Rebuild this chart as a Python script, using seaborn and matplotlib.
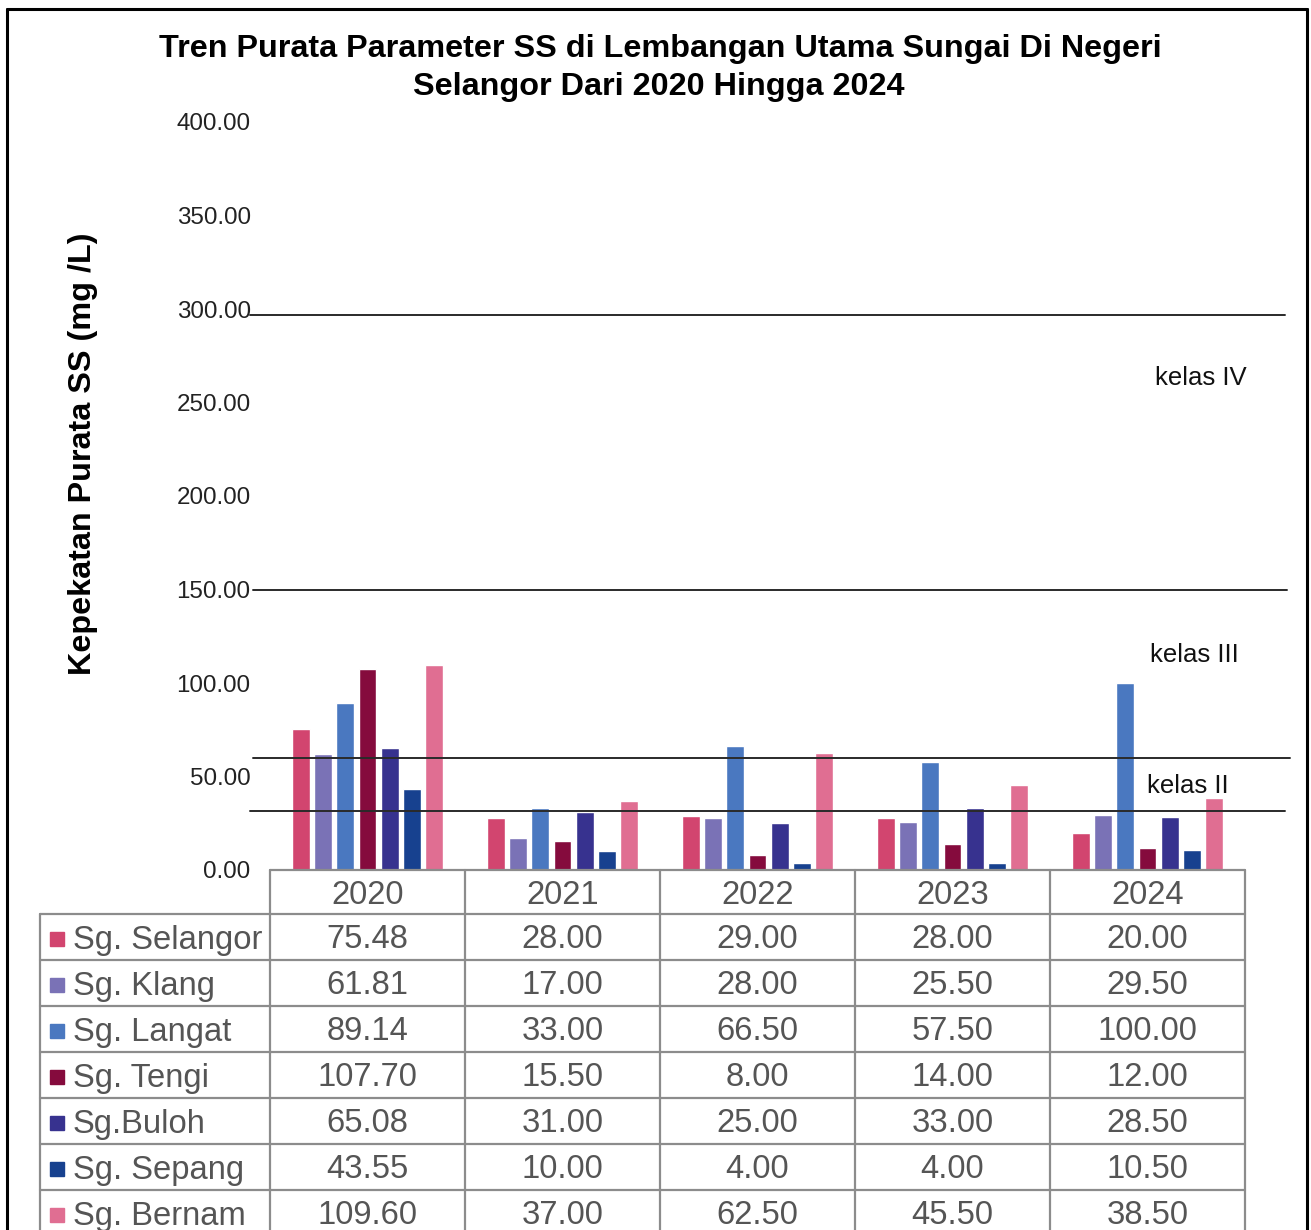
import matplotlib
matplotlib.use("Agg")
import matplotlib.pyplot as plt
import seaborn as sns
import pandas as pd
from matplotlib.patches import Rectangle

years = ["2020", "2021", "2022", "2023", "2024"]
rivers = ["Sg. Selangor", "Sg. Klang", "Sg. Langat", "Sg. Tengi",
          "Sg.Buloh", "Sg. Sepang", "Sg. Bernam"]
selangor = [75.48, 28.00, 29.00, 28.00, 20.00]
klang = [61.81, 17.00, 28.00, 25.50, 29.50]
langat = [89.14, 33.00, 66.50, 57.50, 100.00]
tengi = [107.70, 15.50, 8.00, 14.00, 12.00]
buloh = [65.08, 31.00, 25.00, 33.00, 28.50]
sepang = [43.55, 10.00, 4.00, 4.00, 10.50]
bernam = [109.60, 37.00, 62.50, 45.50, 38.50]
series = [selangor, klang, langat, tengi, buloh, sepang, bernam]
colors = ["#D2456F", "#7A72B6", "#4A78C0", "#850B3D",
          "#37328F", "#17418F", "#E06E92"]
yticks = [0, 50, 100, 150, 200, 250, 300, 350, 400]
class_levels = [297, 150, 60, 31.5]
class_labels = ["kelas IV", "kelas III", "kelas II"]
class_label_y = [263, 115, 45]

rows = []
for r, vals in zip(rivers, series):
    for y, v in zip(years, vals):
        rows.append({"Tahun": y, "Sungai": r, "SS": v})
df = pd.DataFrame(rows)

sns.set_theme(style="white")
plt.rcParams["font.family"] = ["Liberation Sans", "DejaVu Sans"]

W, H = 1311, 1230
fig = plt.figure(figsize=(W / 100, H / 100), dpi=100)
fig.patch.set_facecolor("white")

AX_L, AX_R, AX_B, AX_T = 270, 1245, 870, 122
ax = fig.add_axes([AX_L / W, (H - AX_B) / H, (AX_R - AX_L) / W, (AX_B - AX_T) / H])
sns.barplot(data=df, x="Tahun", y="SS", hue="Sungai", order=years,
            hue_order=rivers, palette=colors, width=0.8, gap=0.2,
            saturation=1, legend=False, ax=ax, zorder=2)
ax.set_xlim(-0.5, 4.5)
ax.set_ylim(0, 400)
ax.set_yticks(yticks)
ax.set_yticklabels([f"{t:.2f}" for t in yticks], fontsize=17.4, color="#222222")
ax.tick_params(axis="y", length=0, pad=14)
ax.set_xticks([])
ax.set_xlabel("")
ax.set_ylabel("")
for s in ax.spines.values():
    s.set_visible(False)
ax.patch.set_alpha(0)

def frac(x):
    return (x - AX_L) / (AX_R - AX_L)

extents = [(250, 1285), (253, 1287), (253, 1290), (250, 1285)]
for lvl, (x0, x1) in zip(class_levels, extents):
    ax.axhline(lvl, xmin=frac(x0), xmax=frac(x1), color="#2a2a2a",
               lw=1.4, clip_on=False, zorder=3)

kx = [1155, 1150, 1147]
for lab, yv, x in zip(class_labels, class_label_y, kx):
    ax.text(frac(x), yv, lab, transform=ax.get_yaxis_transform(),
            fontsize=18.5, color="#111111", ha="left", va="center")

# overlay in pixel coordinates for title, table and frame
ov = fig.add_axes([0, 0, 1, 1])
ov.set_xlim(0, W)
ov.set_ylim(H, 0)
ov.axis("off")

ov.text(660, 49, "Tren Purata Parameter SS di Lembangan Utama Sungai Di Negeri",
        ha="center", va="center", fontsize=23.3, fontweight="bold", color="black")
ov.text(659, 87, "Selangor Dari 2020 Hingga 2024",
        ha="center", va="center", fontsize=23.3, fontweight="bold", color="black")
ov.text(83, 454, "Kepekatan Purata SS (mg /L)", rotation=90, ha="center",
        va="center", fontsize=23.3, fontweight="bold", color="black")

# frame
ov.plot([7, 7], [9, 1240], color="black", lw=2.2, clip_on=False)
ov.plot([7, 1307], [9, 9], color="black", lw=2.2)
ov.plot([1307, 1307], [9, 1240], color="black", lw=2.2, clip_on=False)

# data table
gc = "#8c8c8c"
tc = "#555555"
col_x = [40, 270, 465, 660, 855, 1050, 1245]
row_y = [870, 914, 960, 1006, 1052, 1098, 1144, 1190, 1236]
tlw = 1.6
ov.plot([270, 1245], [870, 870], color=gc, lw=tlw)
for x in col_x[1:]:
    ov.plot([x, x], [870, 1240], color=gc, lw=tlw, clip_on=False)
ov.plot([40, 40], [914, 1240], color=gc, lw=tlw, clip_on=False)
for y in row_y[1:8]:
    ov.plot([40, 1245], [y, y], color=gc, lw=tlw)
fs = 23.6
for j, yr in enumerate(years):
    cx = (col_x[j + 1] + col_x[j + 2]) / 2
    ov.text(cx, (row_y[0] + row_y[1]) / 2 + 3, yr, ha="center", va="center",
            fontsize=fs, color=tc)
for i, (r, vals, c) in enumerate(zip(rivers, series, colors)):
    cy = (row_y[i + 1] + row_y[i + 2]) / 2 + 3
    ov.add_patch(Rectangle((50, cy - 8), 14, 14, color=c))
    ov.text(73, cy, r, ha="left", va="center", fontsize=fs, color=tc)
    for j, v in enumerate(vals):
        cx = (col_x[j + 1] + col_x[j + 2]) / 2
        ov.text(cx, cy, f"{v:.2f}", ha="center", va="center", fontsize=fs, color=tc)

fig.savefig("out.png", dpi=100, facecolor="white")
